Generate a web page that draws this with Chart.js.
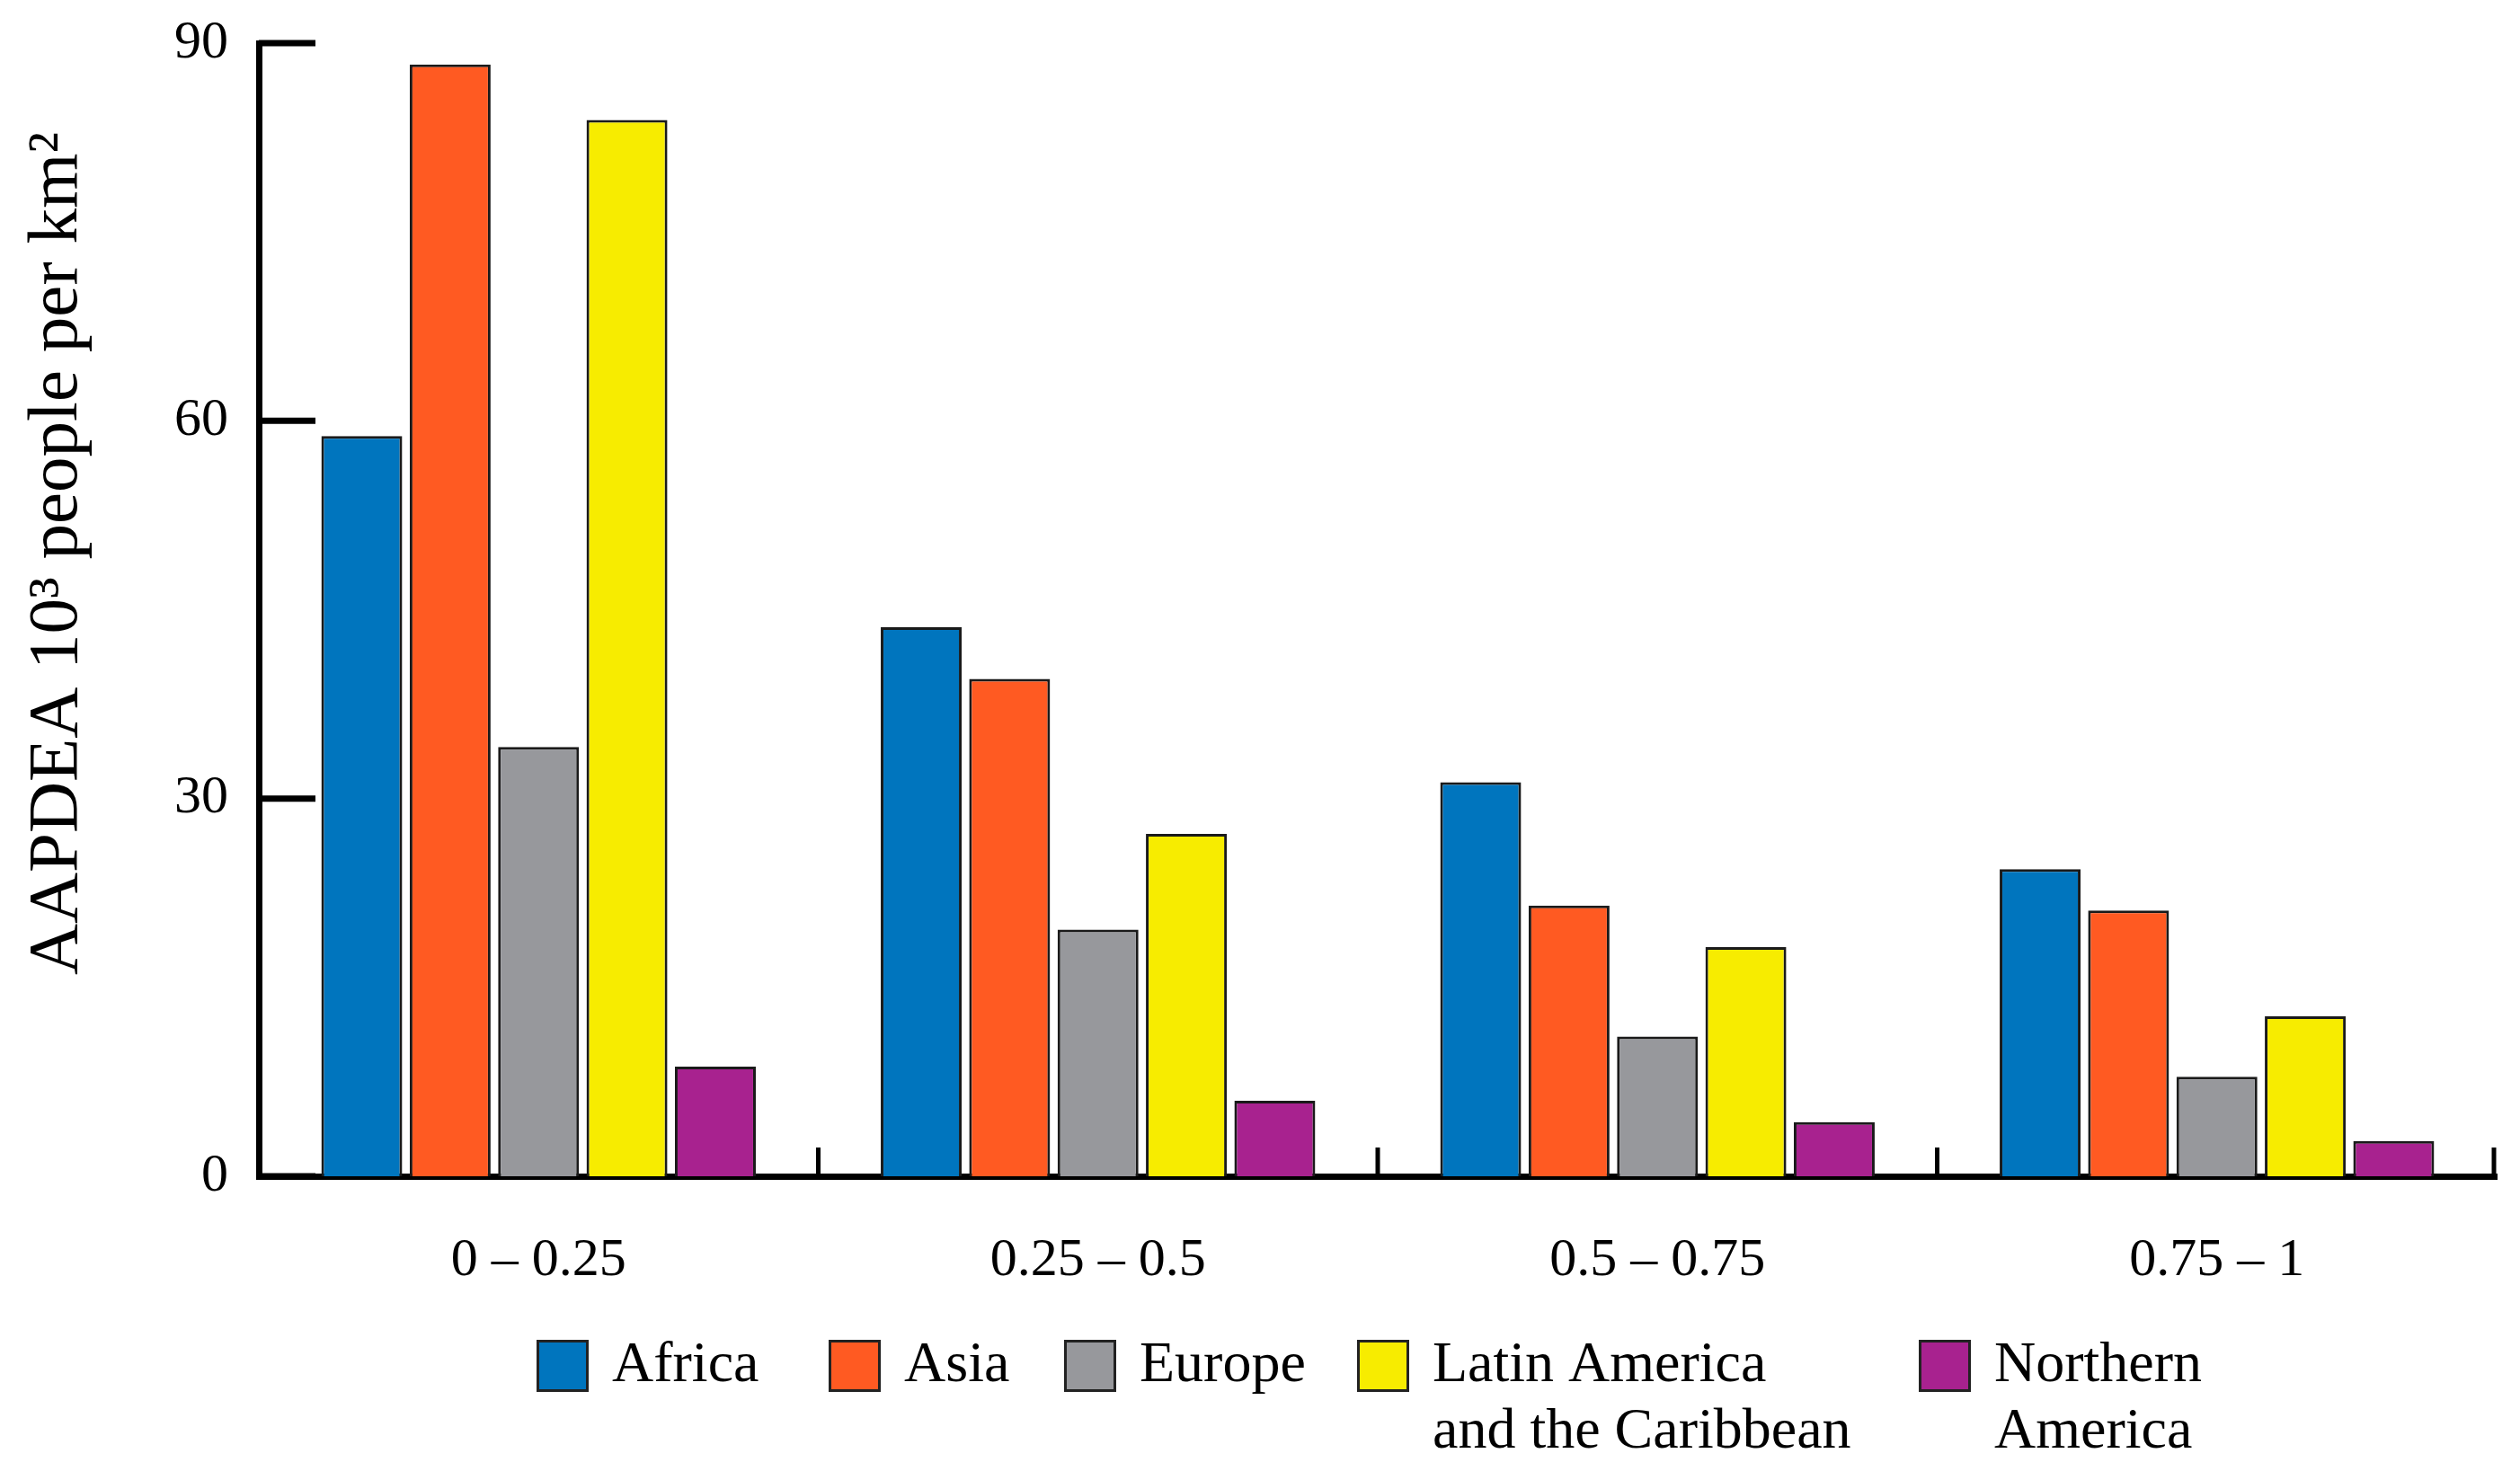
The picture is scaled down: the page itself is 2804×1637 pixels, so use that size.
<!DOCTYPE html>
<html>
<head>
<meta charset="utf-8">
<script src="https://cdn.jsdelivr.net/npm/chart.js@4"></script>
<style>
  html, body { margin: 0; padding: 0; background: #fff; }
  #wrap { width: 2804px; height: 1637px; position: relative; }
</style>
</head>
<body>
<div id="wrap"><canvas id="my-chart"></canvas></div>
<script>
// values
const categories = ['0 – 0.25', '0.25 – 0.5', '0.5 – 0.75', '0.75 – 1']
const africa = [58.8, 43.6, 31.3, 24.4]
const asia = [88.3, 39.5, 21.5, 21.1]
const europe = [34.1, 19.6, 11.1, 7.9]
const latinAmerica = [83.9, 27.2, 18.2, 12.7]
const northernAmerica = [8.7, 6.0, 4.3, 2.8]
const yTicks = [0, 30, 60, 90]
const seriesNames = ['Africa', 'Asia', 'Europe', 'Latin America and the Caribbean', 'Northern America']
const legendLines = [['Africa'], ['Asia'], ['Europe'], ['Latin America', 'and the Caribbean'], ['Northern', 'America']]
const colors = ['#0075BE', '#FF5A22', '#97989C', '#F7EC00', '#A8228F']

const FONT = '"Liberation Serif", "Times New Roman", serif'

// legend box left edges
const legendBoxX = [597, 922, 1184, 1510, 2135]

const decor = {
  id: 'decor',
  afterDraw(chart) {
    const ctx = chart.ctx
    const area = chart.chartArea
    const y = chart.scales.y
    ctx.save()
    ctx.strokeStyle = '#000'
    // inward y ticks
    ctx.lineWidth = 7
    yTicks.forEach(v => {
      const py = y.getPixelForValue(v)
      ctx.beginPath()
      ctx.moveTo(area.left, py)
      ctx.lineTo(area.left + 63, py)
      ctx.stroke()
    })
    // category separators
    ctx.lineWidth = 5
    const w = (area.right - area.left) / categories.length
    for (let i = 1; i <= categories.length; i++) {
      const px = area.left + i * w - (i === categories.length ? 3 : 0)
      ctx.beginPath()
      ctx.moveTo(px, area.bottom)
      ctx.lineTo(px, area.bottom - 32)
      ctx.stroke()
    }
    // y title
    ctx.fillStyle = '#000'
    ctx.font = '79px ' + FONT
    ctx.textAlign = 'center'
    ctx.textBaseline = 'middle'
    ctx.translate(64, 616)
    ctx.rotate(-Math.PI / 2)
    ctx.fillText('AAPDEA 10³ people per km²', 0, 0)
    ctx.restore()

    // legend
    ctx.save()
    ctx.font = '64px ' + FONT
    ctx.textAlign = 'left'
    ctx.textBaseline = 'middle'
    chart.data.datasets.forEach((ds, i) => {
      const bx = legendBoxX[i]
      ctx.fillStyle = ds.backgroundColor
      ctx.fillRect(bx, 1491, 58, 58)
      ctx.lineWidth = 3
      ctx.strokeStyle = '#222'
      ctx.strokeRect(bx + 1.5, 1492.5, 55, 55)
      ctx.fillStyle = '#000'
      legendLines[i].forEach((line, j) => {
        ctx.fillText(line, bx + 84, 1520 + j * 74)
      })
    })
    ctx.restore()
  }
}

const seriesData = [africa, asia, europe, latinAmerica, northernAmerica]

const chart = document.getElementById('my-chart')
var myChart = new Chart(chart, {
  type: 'bar',
  data: {
    labels: categories,
    datasets: seriesData.map((d, i) => ({
      label: seriesNames[i],
      data: d,
      backgroundColor: colors[i],
      borderColor: '#1a1a1a',
      borderWidth: 3,
      categoryPercentage: 0.79,
      barPercentage: 0.915
    }))
  },
  options: {
    responsive: true,
    maintainAspectRatio: false,
    devicePixelRatio: 1,
    animation: false,
    layout: { padding: { top: 48, right: 26, left: 0, bottom: 0 } },
    scales: {
      x: {
        grid: { display: false, drawTicks: false },
        border: { display: true, color: '#000', width: 7 },
        ticks: { color: '#000', padding: 58, font: { family: FONT, size: 60 } },
        afterFit(scale) {
          scale.height = 328
          scale.paddingLeft = 0
          scale.paddingRight = 0
        }
      },
      y: {
        min: 0,
        max: 90,
        grid: { display: false, drawTicks: false },
        border: { display: true, color: '#000', width: 7 },
        ticks: { stepSize: 30, color: '#000', padding: 34, font: { family: FONT, size: 60 } },
        afterFit(scale) {
          scale.width = 288
          scale.paddingTop = 0
          scale.paddingBottom = 0
        }
      }
    },
    plugins: {
      legend: { display: false },
      tooltip: { enabled: false }
    }
  },
  plugins: [decor]
})
</script>
</body>
</html>
